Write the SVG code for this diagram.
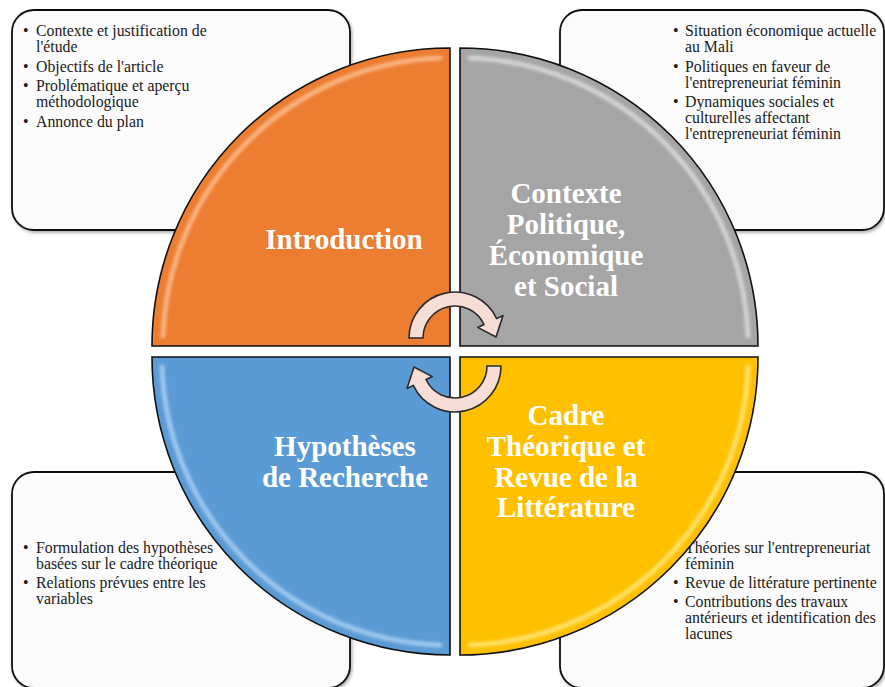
<svg xmlns="http://www.w3.org/2000/svg" width="885" height="687" viewBox="0 0 885 687">
<defs>
<style>
.box{fill:#fbfbfb;stroke:#111;stroke-width:1.8}
.bt{font-family:"Liberation Serif","Times New Roman",serif;font-size:15.8px;fill:#1a1a1a}
.lbl{font-family:"Liberation Serif","Times New Roman",serif;font-size:29px;font-weight:bold;fill:#fff;text-anchor:middle}
.q{stroke:#111;stroke-width:1.6}
.hl{fill:none;stroke-linecap:round}
.arr{fill:#f6ddd6;stroke:#2a2a2a;stroke-width:1.6;stroke-linejoin:round}
</style>
<filter id="blur" x="-20%" y="-20%" width="140%" height="140%"><feGaussianBlur stdDeviation="1.5"/></filter>
<filter id="sh" x="-10%" y="-10%" width="130%" height="130%"><feDropShadow dx="1.5" dy="2" stdDeviation="1.5" flood-color="#000" flood-opacity="0.3"/></filter>
</defs>

<g id="box-intro">
<rect class="box" x="12" y="10" width="338" height="220" rx="22" filter="url(#sh)"/>
<text class="bt"><tspan x="23" y="36">•</tspan><tspan x="36" y="36">Contexte et justification de</tspan><tspan x="36" y="52">l'étude</tspan>
<tspan x="23" y="72">•</tspan><tspan x="36" y="72">Objectifs de l'article</tspan>
<tspan x="23" y="91">•</tspan><tspan x="36" y="91">Problématique et aperçu</tspan><tspan x="36" y="107">méthodologique</tspan>
<tspan x="23" y="127">•</tspan><tspan x="36" y="127">Annonce du plan</tspan></text>
</g>

<g id="box-contexte">
<rect class="box" x="560" y="10" width="324" height="220" rx="22" filter="url(#sh)"/>
<text class="bt"><tspan x="673" y="36">•</tspan><tspan x="685" y="36">Situation économique actuelle</tspan><tspan x="685" y="52">au Mali</tspan>
<tspan x="673" y="72">•</tspan><tspan x="685" y="72">Politiques en faveur de</tspan><tspan x="685" y="88">l'entrepreneuriat féminin</tspan>
<tspan x="673" y="107">•</tspan><tspan x="685" y="107">Dynamiques sociales et</tspan><tspan x="685" y="123">culturelles affectant</tspan><tspan x="685" y="139">l'entrepreneuriat féminin</tspan></text>
</g>

<g id="box-hypotheses">
<rect class="box" x="12" y="472" width="338" height="216" rx="22" filter="url(#sh)"/>
<text class="bt"><tspan x="23" y="553">•</tspan><tspan x="36" y="553">Formulation des hypothèses</tspan><tspan x="36" y="569">basées sur le cadre théorique</tspan>
<tspan x="23" y="588">•</tspan><tspan x="36" y="588">Relations prévues entre les</tspan><tspan x="36" y="604">variables</tspan></text>
</g>

<g id="box-cadre">
<rect class="box" x="560" y="472" width="324" height="216" rx="22" filter="url(#sh)"/>
<text class="bt"><tspan x="673" y="553">•</tspan><tspan x="685" y="553">Théories sur l'entrepreneuriat</tspan><tspan x="685" y="569">féminin</tspan>
<tspan x="673" y="588">•</tspan><tspan x="685" y="588">Revue de littérature pertinente</tspan>
<tspan x="673" y="607">•</tspan><tspan x="685" y="607">Contributions des travaux</tspan><tspan x="685" y="623">antérieurs et identification des</tspan><tspan x="685" y="639">lacunes</tspan></text>
</g>

<g id="node-introduction">
<path class="q" d="M450 346 L152 346 A298 298 0 0 1 450 48 Z" fill="#ED7D31"/>
<path class="hl" d="M163 336 A288 288 0 0 1 440 58" stroke="#F8B27E" stroke-width="5" filter="url(#blur)"/>
<path class="hl" d="M440 60 L440 334" stroke="#FFE08C" stroke-width="5" filter="url(#blur)"/>
<path class="hl" d="M160 338 L440 338" stroke="#C9621F" stroke-width="3" opacity="0.7" filter="url(#blur)"/>
<text class="lbl" x="344" y="249">Introduction</text>
</g>

<g id="node-contexte">
<path class="q" d="M460 346 L460 48 A298 298 0 0 1 758 346 Z" fill="#A5A5A5"/>
<path class="hl" d="M470 58 A288 288 0 0 1 748 336" stroke="#D2D2D2" stroke-width="5" filter="url(#blur)"/>
<path class="hl" d="M470 336 L745 336" stroke="#FFFFFF" stroke-width="5" filter="url(#blur)"/>
<text class="lbl"><tspan x="566" y="203">Contexte</tspan><tspan x="566" y="234">Politique,</tspan><tspan x="566" y="265">Économique</tspan><tspan x="566" y="296">et Social</tspan></text>
</g>

<g id="node-hypotheses">
<path class="q" d="M450 357 L450 655 A298 298 0 0 1 152 357 Z" fill="#5B9BD5"/>
<path class="hl" d="M440 645 A288 288 0 0 1 162 367" stroke="#9CC6EE" stroke-width="5" filter="url(#blur)"/>
<path class="hl" d="M165 367 L440 367" stroke="#CDEBFF" stroke-width="5" filter="url(#blur)"/>
<text class="lbl"><tspan x="345" y="456">Hypothèses</tspan><tspan x="345" y="487">de Recherche</tspan></text>
</g>

<g id="node-cadre">
<path class="q" d="M460 357 L758 357 A298 298 0 0 1 460 655 Z" fill="#FFC000"/>
<path class="hl" d="M748 367 A288 288 0 0 1 470 645" stroke="#FFE066" stroke-width="5" filter="url(#blur)"/>
<path class="hl" d="M470 370 L470 645" stroke="#FFF08A" stroke-width="5" filter="url(#blur)"/>
<text class="lbl"><tspan x="566" y="425">Cadre</tspan><tspan x="566" y="456">Théorique et</tspan><tspan x="566" y="487">Revue de la</tspan><tspan x="566" y="517">Littérature</tspan></text>
</g>

<g id="connectors">
<path class="arr" d="M409 338 A46 46 0 0 1 496.7 318.6 L503 315.5 L496 337 L477.7 327.4 L484 324.5 A32 32 0 0 0 423 338 Z"/>
<path class="arr" transform="rotate(180 455 352)" d="M409 338 A46 46 0 0 1 496.7 318.6 L503 315.5 L496 337 L477.7 327.4 L484 324.5 A32 32 0 0 0 423 338 Z"/>
</g>
</svg>
